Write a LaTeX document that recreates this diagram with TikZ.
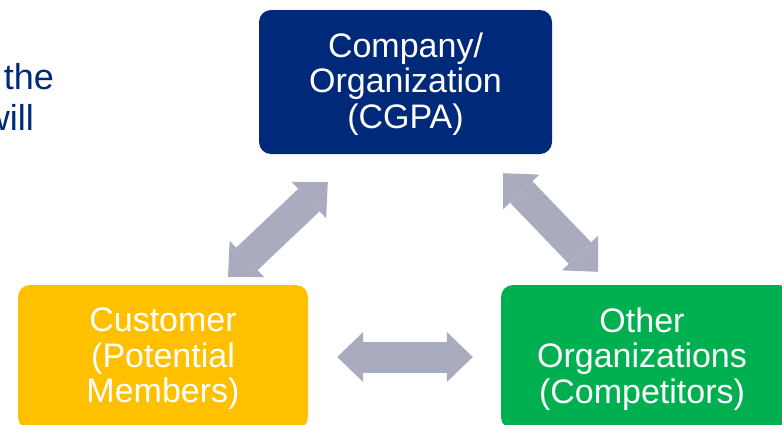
\documentclass[tikz,border=0pt]{standalone}
\usepackage{fontspec}
\setmainfont{Liberation Sans}
\usetikzlibrary{calc,arrows.meta}
\definecolor{navy}{RGB}{0,41,122}
\definecolor{gold}{RGB}{255,192,0}
\definecolor{grn}{RGB}{0,176,80}
\definecolor{arrowgray}{RGB}{169,171,190}
\tikzset{
  box/.style={rectangle, rounded corners=12pt, minimum width=290pt, minimum height=144pt, inner sep=0pt},
  boxtext/.style={inner sep=0pt, text=white, align=center, font=\fontsize{34}{35.5}\selectfont},
  fat/.style={color=arrowgray, line width=31pt,
    {Triangle[length=26pt,width=50pt,line width=0pt]}-{Triangle[length=26pt,width=50pt,line width=0pt]}},
  side/.style={anchor=base east, inner sep=0pt, text=navy, font=\fontsize{36}{41}\selectfont}
}
\begin{document}
\begin{tikzpicture}[x=1pt,y=-1pt]
\useasboundingbox (0,0) rectangle (782,424);
\clip (0,0) rectangle (782,424);

\draw node [side] at (54,89) (sidetop){the};
\draw node [side] at (34,130) (sidebot){will};

\draw node [box, fill=navy, minimum width=293pt] at (405.5,82) (company){};
\draw node [boxtext] at ($ (company)+(0,2) $) (companytext){Company/\\Organization\\(CGPA)};

\draw node [box, fill=gold] at (163,357) (customer){};
\draw node [boxtext] at ($ (customer)+(0,2) $) (customertext){Customer\\(Potential\\Members)};

\draw node [box, fill=grn] at (646,357) (other){};
\draw node [boxtext] at ($ (other)+(-4,2) $) (othertext){Other\\Organizations\\(Competitors)};

\coordinate (a1) at ($ (company.south west)+(69,28) $);
\coordinate (a2) at ($ (customer.north)+(65,-8) $);
\coordinate (b1) at ($ (customer.east)+(29,0) $);
\coordinate (b2) at ($ (other.west)+(-28,0) $);
\coordinate (c1) at ($ (company.south east)+(-49,19) $);
\coordinate (c2) at ($ (other.north)+(-48,-13) $);

\draw[fat] (a1) -- (a2);
\draw[fat] (b1) -- (b2);
\draw[fat] (c1) -- (c2);

\end{tikzpicture}
\end{document}
